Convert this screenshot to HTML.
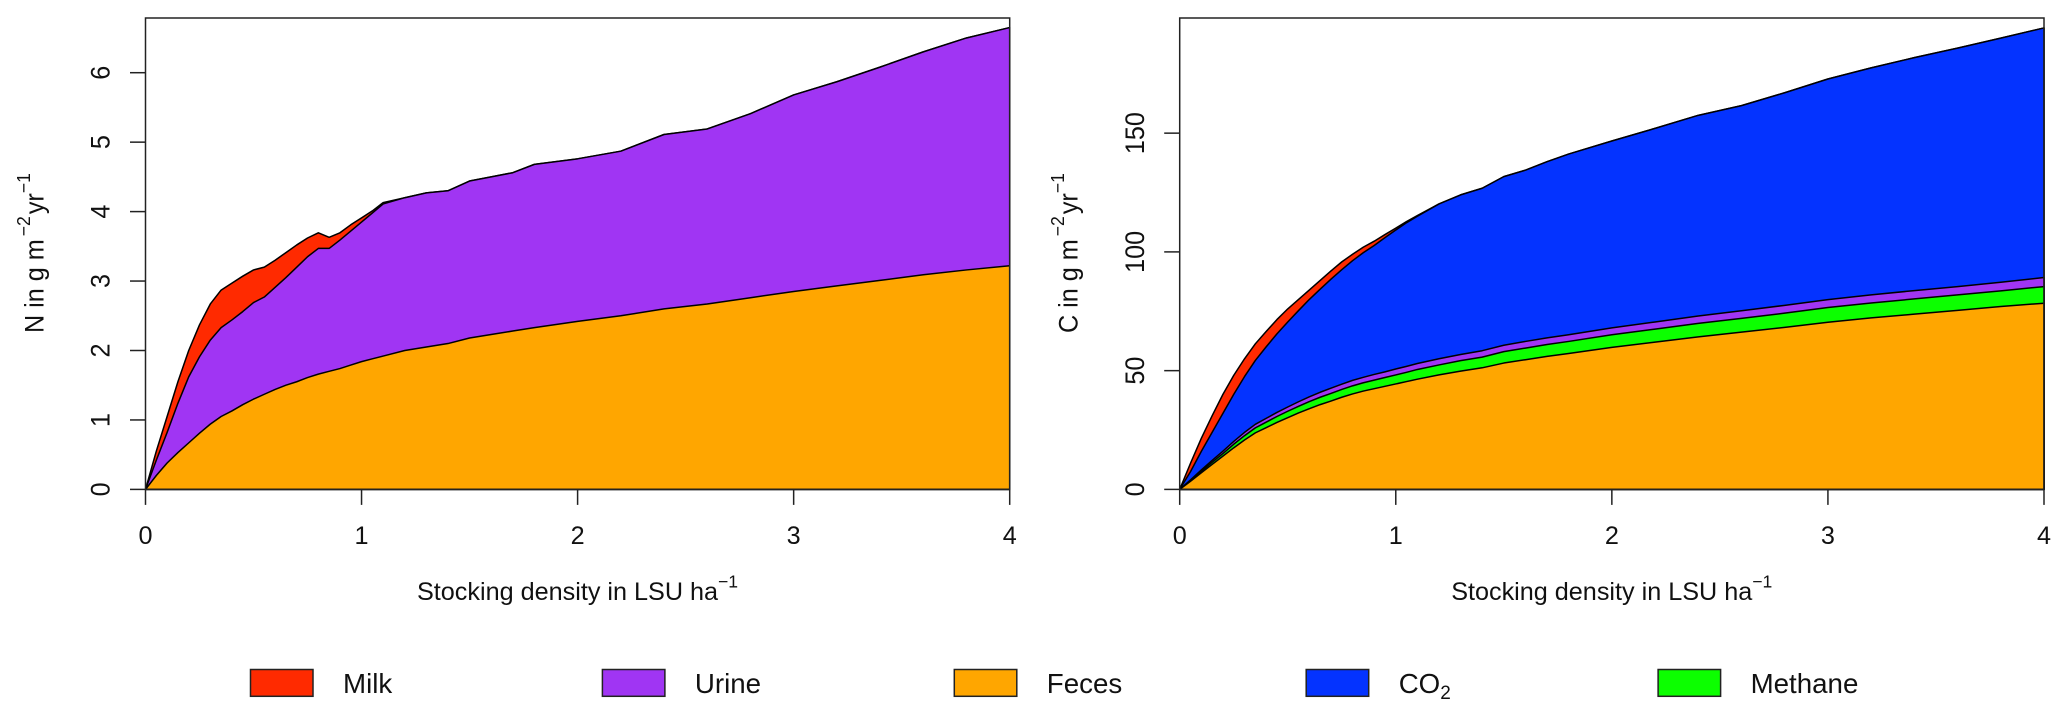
<!DOCTYPE html>
<html lang="en">
<head>
<meta charset="utf-8">
<title>Stocking density: N and C flows</title>
<style>
html,body{margin:0;padding:0;background:#fff;}
svg{display:block;}
text{font-family:"Liberation Sans",Arial,sans-serif;fill:#111;}
</style>
</head>
<body>
<svg id="chart" xmlns="http://www.w3.org/2000/svg" width="2067" height="714" viewBox="0 0 2067 714"></svg>
<script>
const stockingDensity = [0,0.05,0.1,0.15,0.2,0.25,0.3,0.35,0.4,0.45,0.5,0.55,0.6,0.65,0.7,0.75,0.8,0.85,0.9,0.95,1,1.05,1.1,1.2,1.3,1.4,1.5,1.6,1.7,1.8,2,2.2,2.4,2.6,2.8,3,3.2,3.4,3.6,3.8,4];

const nFecesTop = [0,0.2,0.38,0.53,0.67,0.81,0.94,1.05,1.13,1.22,1.3,1.37,1.44,1.5,1.55,1.61,1.66,1.7,1.74,1.79,1.84,1.88,1.92,2.0,2.05,2.1,2.18,2.23,2.28,2.33,2.42,2.5,2.6,2.67,2.76,2.85,2.93,3.01,3.09,3.16,3.22];
const nUrineTop = [0,0.42,0.82,1.24,1.62,1.91,2.15,2.33,2.44,2.56,2.69,2.77,2.91,3.05,3.2,3.35,3.47,3.47,3.59,3.72,3.85,3.98,4.11,4.2,4.27,4.3,4.44,4.5,4.56,4.68,4.76,4.87,5.11,5.19,5.41,5.68,5.87,6.08,6.3,6.5,6.65];
const nMilkTop = [0,0.55,1.05,1.55,2.0,2.37,2.67,2.87,2.97,3.07,3.16,3.2,3.3,3.41,3.52,3.62,3.695,3.63,3.695,3.81,3.91,4.01,4.13,4.2,4.27,4.3,4.44,4.5,4.56,4.68,4.76,4.87,5.11,5.19,5.41,5.68,5.87,6.08,6.3,6.5,6.65];

const cFecesTop = [0,3.4,7,10.5,14,17.5,20.8,23.8,26,28.2,30.2,32.2,34,35.7,37.2,38.8,40.2,41.4,42.4,43.4,44.4,45.4,46.4,48.2,49.8,51.2,53.2,54.6,56,57.2,59.8,62,64.2,66.2,68.2,70.4,72.2,73.8,75.4,77,78.4];
const cMethaneTop = [0,3.7,7.6,11.4,15.1,19,22.6,25.9,28.3,30.7,32.9,35,37,38.8,40.4,42.1,43.6,44.9,46,47.1,48.2,49.3,50.5,52.4,54.2,55.7,58,59.5,61,62.3,65.1,67.5,69.9,72,74.2,76.6,78.5,80.2,81.9,83.6,85.4];
const cUrineTop = [0,4,8.2,12.2,16.1,20.2,24,27.4,29.9,32.4,34.7,36.9,39,40.9,42.6,44.3,45.9,47.2,48.4,49.5,50.7,51.8,53,55,56.8,58.4,60.7,62.3,63.8,65.1,68,70.5,73,75.2,77.5,79.9,81.9,83.7,85.4,87.2,89.2];
const cCo2Top = [0,7.5,16,24,32,40,47.5,54.3,60,65.5,70.5,75.3,80,84.3,88.5,92.5,96.3,99.7,102.7,106,109.2,112.3,115,120.2,124,126.8,131.7,134.4,138,141.2,146.7,152,157.5,161.6,167,172.8,177.5,181.8,185.8,190,194.3];
const cMilkTop = [0,11,21.5,31,40,48,55,61.3,66.5,71.5,76,80,84,88,92,95.8,99,102,104.5,107.3,110,112.8,115.3,120.2,124,126.8,131.7,134.4,138,141.2,146.7,152,157.5,161.6,167,172.8,177.5,181.8,185.8,190,194.3];

const xTickLabels = [0,1,2,3,4];
const nYTickLabels = [0,1,2,3,4,5,6];
const cYTickLabels = [0,50,100,150];

const legendLabels = ["Milk","Urine","Feces","CO","Methane"];

const NS = "http://www.w3.org/2000/svg";
const svg = document.getElementById("chart");
const RED = "#ff2a00", PURPLE = "#a035f3", ORANGE = "#ffa600", BLUE = "#0433ff", GREEN = "#0cff00";
const TOP = 18, BOTTOM = 489.4, FONT = 25.2, SUP = 17.6, LEGEND_FONT = 27.7;

function el(tag, attrs, parent) {
  const e = document.createElementNS(NS, tag);
  for (const k in attrs) e.setAttribute(k, attrs[k]);
  (parent || svg).appendChild(e);
  return e;
}

function supText(parent, base, sup1, tail, sup2) {
  el("tspan", {}, parent).textContent = base;
  el("tspan", {dy: -12.6, dx: tail ? 3 : 0, "font-size": SUP}, parent).textContent = sup1;
  if (tail) {
    el("tspan", {dy: 12.6, dx: 2}, parent).textContent = tail;
    el("tspan", {dy: -12.6, "font-size": SUP}, parent).textContent = sup2;
  }
}

function drawPanel(name, left, right, yPerUnit, layers, yTicks, yBase, labelBase, yHead) {
  const group = el("g", {});
  
  
  const sx = v => left + v * (right - left) / 4;
  const sy = v => BOTTOM - v * yPerUnit;

  layers.forEach(layer => {
    const pts = stockingDensity.map((d, i) => sx(d).toFixed(2) + "," + sy(layer.values[i]).toFixed(2));
    pts.push(sx(4).toFixed(2) + "," + sy(0).toFixed(2));
    pts.push(sx(0).toFixed(2) + "," + sy(0).toFixed(2));
    const area = el("polygon", {points: pts.join(" "), fill: layer.color, stroke: "#000", "stroke-width": 1.5, "stroke-linejoin": "round"}, group);
    
    
  });

  const frame = el("rect", {x: left, y: TOP, width: right - left, height: BOTTOM - TOP, fill: "none", stroke: "#222", "stroke-width": 1.5}, group);
  
  

  xTickLabels.forEach(t => {
    const tick = el("line", {x1: sx(t), x2: sx(t), y1: BOTTOM, y2: BOTTOM + 15.5, stroke: "#222", "stroke-width": 1.5}, group);
    
    
    const lab = el("text", {x: sx(t), y: 544, "text-anchor": "middle", "font-size": FONT}, group);
    lab.textContent = t;
    
    
  });

  yTicks.forEach(t => {
    const tick = el("line", {x1: left - 15.5, x2: left, y1: sy(t), y2: sy(t), stroke: "#222", "stroke-width": 1.5}, group);
    
    
    const lab = el("text", {transform: "translate(" + yBase + " " + sy(t) + ") rotate(-90) scale(1 1.06)", "text-anchor": "middle", "font-size": FONT}, group);
    lab.textContent = t;
    
    
  });

  const xTitle = el("text", {x: left + 271.5, y: 600, "font-size": FONT}, group);
  supText(xTitle, "Stocking density in LSU ha", "\u22121");
  
  

  const yTitle = el("text", {transform: "translate(" + labelBase + " 333) rotate(-90) scale(1 1.06)", "font-size": FONT}, group);
  supText(yTitle, yHead, "\u22122", "yr", "\u22121");
  
  
}

drawPanel("nitrogen", 145.5, 1009.7, 69.45, [
  {key: "milk", color: RED, values: nMilkTop},
  {key: "urine", color: PURPLE, values: nUrineTop},
  {key: "feces", color: ORANGE, values: nFecesTop}
], nYTickLabels, 109.3, 43.3, "N in g m");

drawPanel("carbon", 1179.7, 2044, 2.375, [
  {key: "milk", color: RED, values: cMilkTop},
  {key: "co2", color: BLUE, values: cCo2Top},
  {key: "urine", color: PURPLE, values: cUrineTop},
  {key: "methane", color: GREEN, values: cMethaneTop},
  {key: "feces", color: ORANGE, values: cFecesTop}
], cYTickLabels, 1144, 1077.3, "C in g m");

const legendColors = [RED, PURPLE, ORANGE, BLUE, GREEN];
const legend = el("g", {});


legendLabels.forEach((label, i) => {
  const x = 250.5 + i * 351.9;
  const swatch = el("rect", {x: x, y: 669.5, width: 62.5, height: 26.8, fill: legendColors[i], stroke: "#222", "stroke-width": 1.5}, legend);
  
  
  const text = el("text", {x: x + 92.5, y: 693, "font-size": LEGEND_FONT}, legend);
  
  
  el("tspan", {}, text).textContent = label;
  if (label === "CO") {
    el("tspan", {dy: 6, "font-size": 19}, text).textContent = "2";
  }
});
</script>
</body>
</html>
